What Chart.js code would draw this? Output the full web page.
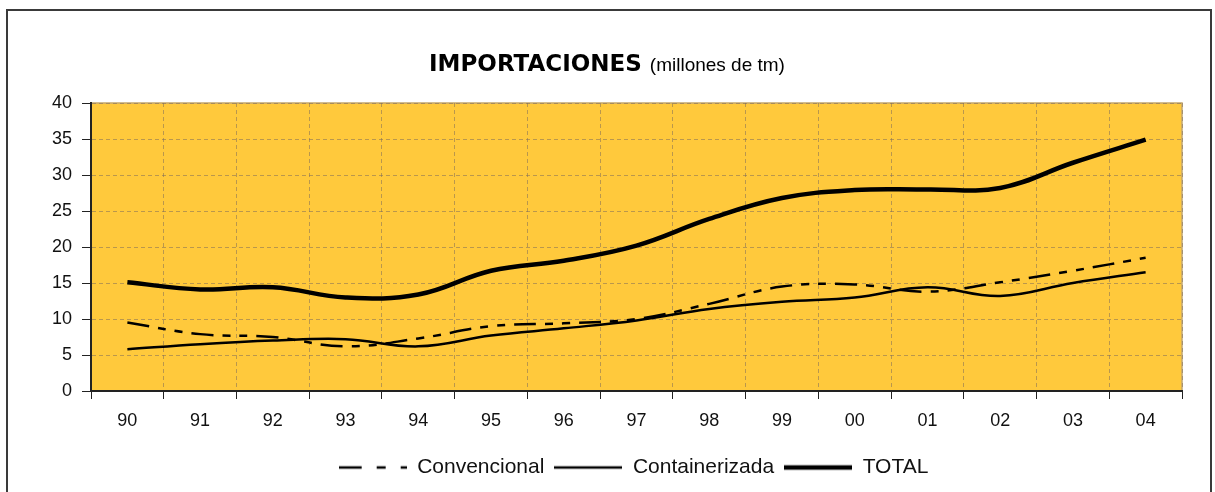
<!DOCTYPE html>
<html>
<head>
<meta charset="utf-8">
<script src="https://cdn.jsdelivr.net/npm/chart.js@4.4.0/dist/chart.umd.min.js"></script>
<style>
  html, body { margin: 0; padding: 0; background: #fff; }
  #wrap { position: relative; width: 1215px; height: 492px; overflow: hidden; }
  #frame { position: absolute; left: 6px; top: 9px; width: 1202px; height: 500px; border: 2px solid #3a3a3a; }
  #chart { position: absolute; left: 0; top: 0; }
</style>
</head>
<body>
<div id="wrap">
  <div id="frame"></div>
  <canvas id="chart" width="1215" height="492"></canvas>
</div>
<script>
const years = ["90", "91", "92", "93", "94", "95", "96", "97", "98", "99", "00", "01", "02", "03", "04"];
const convencional = [9.5, 7.9, 7.5, 6.2, 7.3, 9.0, 9.4, 10.0, 12.1, 14.5, 14.8, 13.8, 15.1, 16.7, 18.5];
const containerizada = [5.8, 6.5, 7.0, 7.2, 6.2, 7.7, 8.7, 9.8, 11.4, 12.4, 13.0, 14.4, 13.2, 15.0, 16.5];
const total = [15.1, 14.1, 14.4, 13.0, 13.4, 16.7, 18.1, 20.2, 23.9, 26.8, 27.9, 28.0, 28.2, 31.7, 34.9];

const titleMain = "IMPORTACIONES";
const titleSub = "(millones de tm)";

const gridColor = "rgba(130, 110, 90, 0.55)";
const tickFont = { family: "'Liberation Sans', Arial, sans-serif", size: 18 };
const convDash = [22, 9, 8, 9, 8, 9];

// little canvas used as the legend sample (legend ignores borderDash with point styles)
function lineSample(width, lineWidth, dash) {
  const c = document.createElement("canvas");
  c.width = width;
  c.height = 10;
  const g = c.getContext("2d");
  g.strokeStyle = "#000";
  g.lineWidth = lineWidth;
  g.setLineDash(dash);
  g.beginPath();
  g.moveTo(0, 5);
  g.lineTo(width, 5);
  g.stroke();
  return c;
}

// yellow plot background with thin tan frame (top/right edges)
const plotArea = {
  id: "plotArea",
  beforeDraw(chart) {
    const { ctx, chartArea: a } = chart;
    ctx.save();
    ctx.fillStyle = "#FFC93C";
    ctx.fillRect(a.left, a.top, a.right - a.left, a.bottom - a.top);
    ctx.strokeStyle = "#C4A66C";
    ctx.lineWidth = 1.5;
    ctx.strokeRect(a.left, a.top, a.right - a.left, a.bottom - a.top);
    ctx.restore();
  }
};

// title with bold + normal parts
const twoPartTitle = {
  id: "twoPartTitle",
  afterDraw(chart) {
    const ctx = chart.ctx;
    ctx.save();
    ctx.fillStyle = "#000";
    ctx.textBaseline = "alphabetic";
    ctx.font = "bold 23px 'DejaVu Sans'";
    const w1 = ctx.measureText(titleMain + " ").width;
    ctx.font = "19px 'Liberation Sans'";
    const w2 = ctx.measureText(titleSub).width;
    const x = 607 - (w1 + w2) / 2;
    ctx.font = "bold 23px 'DejaVu Sans'";
    ctx.fillText(titleMain, x, 71);
    ctx.font = "19px 'Liberation Sans'";
    ctx.fillText(titleSub, x + w1, 71);
    ctx.restore();
  }
};

const ctx = document.getElementById("chart").getContext("2d");
new Chart(ctx, {
  type: "line",
  data: {
    labels: years,
    datasets: [
      {
        label: "Convencional",
        data: convencional,
        borderColor: "#000",
        backgroundColor: "#000",
        borderWidth: 2.5,
        borderDash: convDash,
        tension: 0.4,
        pointRadius: 0,
        pointStyle: lineSample(68, 2.5, [23, 15, 9, 15, 6]),
        fill: false
      },
      {
        label: "Containerizada",
        data: containerizada,
        borderColor: "#000",
        backgroundColor: "#000",
        borderWidth: 2.5,
        tension: 0.4,
        pointRadius: 0,
        pointStyle: lineSample(68, 2.5, []),
        fill: false
      },
      {
        label: "TOTAL",
        data: total,
        borderColor: "#000",
        backgroundColor: "#000",
        borderWidth: 4.5,
        tension: 0.4,
        pointRadius: 0,
        pointStyle: lineSample(68, 4.5, []),
        fill: false
      }
    ]
  },
  options: {
    responsive: false,
    animation: false,
    devicePixelRatio: 1,
    layout: { padding: { left: 52, right: 0, top: 103, bottom: 4 } },
    plugins: {
      title: { display: false },
      tooltip: { enabled: false },
      legend: {
        position: "bottom",
        labels: {
          usePointStyle: true,
          pointStyleWidth: 68,
          color: "#111",
          padding: 10,
          font: { family: "'Liberation Sans', Arial, sans-serif", size: 21 }
        }
      }
    },
    scales: {
      x: {
        offset: true,
        grid: { offset: true, color: gridColor, tickColor: "#222", tickLength: 8, tickBorderDash: [] },
        border: { color: "#222", width: 2, dash: [4, 3] },
        ticks: { color: "#111", font: tickFont, padding: 11, maxRotation: 0, autoSkip: false },
        afterFit(scale) { scale.height = 56; }
      },
      y: {
        min: 0,
        max: 40,
        grid: { color: gridColor, tickColor: "#222", tickLength: 9, tickBorderDash: [] },
        border: { color: "#222", width: 2, dash: [4, 3] },
        ticks: { stepSize: 5, color: "#111", font: tickFont, padding: 10 },
        afterFit(scale) { scale.width = 39; }
      },
      // empty right axis, only keeps the plot's right edge where it is
      yRight: {
        position: "right",
        grid: { drawOnChartArea: false, drawTicks: false },
        border: { display: false },
        ticks: { display: false },
        afterFit(scale) { scale.width = 33; }
      }
    }
  },
  plugins: [plotArea, twoPartTitle]
});
</script>
</body>
</html>
